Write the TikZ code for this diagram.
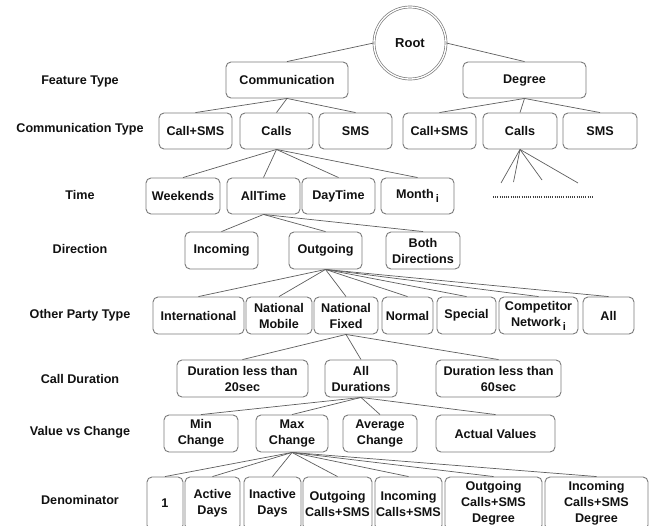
\documentclass[tikz,border=0pt]{standalone}
\usepackage{fontspec}
\setmainfont{Liberation Sans}
\definecolor{boxgray}{HTML}{7A7A7A}
\definecolor{linegray}{HTML}{5E5E5E}
\definecolor{txt}{HTML}{111111}
\newcommand\bx[6]{\node[box, minimum width={(#4-#2)*1pt}, minimum height={(#5-#3)*1pt}] (#1) at ({(#2+#4)/2},{(#3+#5)/2}) {#6};}
\newcommand\subi{\,\raisebox{-4pt}{\fontsize{11}{11}\selectfont i}}
\begin{document}
\begin{tikzpicture}[x=1pt,y=-1pt,
  box/.style={draw=boxgray, line width=0.9pt, rounded corners=5pt, inner sep=0pt, align=center, font=\bfseries\fontsize{12.6}{16}\selectfont, text=txt},
  lbl/.style={font=\bfseries\fontsize{12.6}{16}\selectfont, text=txt},
  conn/.style={draw=linegray, line width=0.7pt},
  rootnode/.style={circle, draw=boxgray, double, double distance=1.3pt, line width=0.7pt, minimum size=72pt, inner sep=0pt, font=\bfseries\fontsize{13}{16}\selectfont, text=txt}]
\useasboundingbox (0,0) rectangle (660,525);
\clip (0,0) rectangle (660,525);
\fill[white] (0,0) rectangle (660,525);

% row labels
\node[lbl] (l1) at (80,81) {Feature Type};
\node[lbl] (l2) at (80,129) {Communication Type};
\node[lbl] (l3) at (80,195) {Time};
\node[lbl] (l4) at (80,249) {Direction};
\node[lbl] (l5) at (80,315) {Other Party Type};
\node[lbl] (l6) at (80,379) {Call Duration};
\node[lbl] (l7) at (80,432) {Value vs Change};
\node[lbl] (l8) at (80,500) {Denominator};

% root
\node[rootnode] (root) at (410,43) {Root};

% row 1
\bx{comm}{226}{62}{348}{98}{Communication}
\bx{deg}{463}{62}{586}{98}{Degree}

% row 2
\bx{ccs}{159}{113}{232}{149}{Call+SMS}
\bx{ccalls}{240}{113}{313}{149}{Calls}
\bx{csms}{319}{113}{392}{149}{SMS}
\bx{dcs}{403}{113}{476}{149}{Call+SMS}
\bx{dcalls}{483}{113}{557}{149}{Calls}
\bx{dsms}{563}{113}{637}{149}{SMS}

% row 3
\bx{week}{146}{178}{220}{214}{Weekends}
\bx{allt}{227}{178}{300}{214}{AllTime}
\bx{dayt}{302}{178}{375}{214}{DayTime}
\bx{month}{381}{178}{454}{214}{Month\subi}

% row 4
\bx{inc}{185}{232}{258}{269}{Incoming}
\bx{out}{289}{232}{362}{269}{Outgoing}
\bx{both}{386}{232}{460}{269}{Both\\Directions}

% row 5
\bx{intl}{153}{297}{244}{334}{International}
\bx{natm}{246}{297}{312}{334}{National\\Mobile}
\bx{natf}{314}{297}{378}{334}{National\\Fixed}
\bx{norm}{382}{297}{433}{334}{Normal}
\bx{spec}{437}{297}{496}{334}{Special}
\bx{comp}{499}{297}{578}{334}{Competitor\\Network\subi}
\bx{all}{583}{297}{634}{334}{All}

% row 6
\bx{dur20}{177}{360}{308}{397}{Duration less than\\20sec}
\bx{alldur}{325}{360}{397}{397}{All\\Durations}
\bx{dur60}{436}{360}{561}{397}{Duration less than\\60sec}

% row 7
\bx{minc}{164}{415}{238}{452}{Min\\Change}
\bx{maxc}{256}{415}{328}{452}{Max\\Change}
\bx{avgc}{343}{415}{417}{452}{Average\\Change}
\bx{actv}{436}{415}{555}{452}{Actual Values}

% row 8
\bx{one}{147}{477}{183}{530}{1}
\bx{actd}{185}{477}{240}{530}{Active\\Days}
\bx{inad}{244}{477}{301}{530}{Inactive\\Days}
\bx{ocs}{303}{477}{372}{530}{Outgoing\\Calls+SMS}
\bx{ics}{375}{477}{442}{530}{Incoming\\Calls+SMS}
\bx{ocsd}{445}{477}{542}{530}{Outgoing\\Calls+SMS\\Degree}
\bx{icsd}{545}{477}{648}{530}{Incoming\\Calls+SMS\\Degree}

% connectors
\draw[conn] (root.west) -- (comm.north);
\draw[conn] (root.east) -- (deg.north);
\foreach \c in {ccs,ccalls,csms} \draw[conn] (comm.south) -- (\c.north);
\foreach \c in {dcs,dcalls,dsms} \draw[conn] (deg.south) -- (\c.north);
\foreach \c in {week,allt,dayt,month} \draw[conn] (ccalls.south) -- (\c.north);
\foreach \c in {inc,out,both} \draw[conn] (allt.south) -- (\c.north);
\foreach \c in {intl,natm,natf,norm,spec,comp,all} \draw[conn] (out.south) -- (\c.north);
\foreach \c in {dur20,alldur,dur60} \draw[conn] (natf.south) -- (\c.north);
\foreach \c in {minc,maxc,avgc,actv} \draw[conn] (alldur.south) -- (\c.north);
\foreach \c in {one,actd,inad,ocs,ics,ocsd,icsd} \draw[conn] (maxc.south) -- (\c.north);

% degree calls fan (open ends)
\coordinate (f1) at (501,183);
\coordinate (f2) at (513.5,182);
\coordinate (f3) at (542,180);
\coordinate (f4) at (578,183);
\foreach \c in {f1,f2,f3,f4} \draw[conn] (dcalls.south) -- (\c);

% dotted continuation
\coordinate (d1) at (493,197);
\coordinate (d2) at (594,197);
\draw[draw=txt!80, line width=1.1pt, dash pattern=on 1pt off 1.2pt] (d1) -- (d2);
\end{tikzpicture}
\end{document}
